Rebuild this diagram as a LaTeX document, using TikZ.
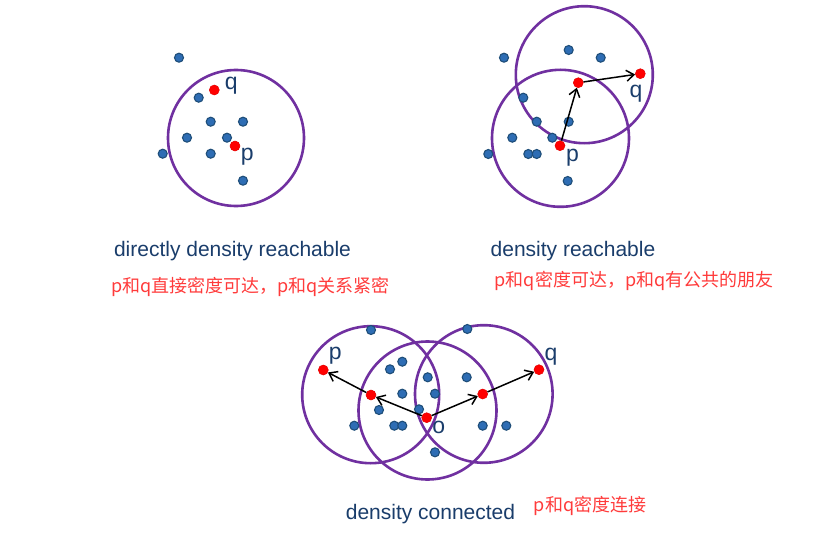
\documentclass[tikz,border=0pt]{standalone}
\usepackage{fontspec}
\setmainfont{Liberation Sans}
\newfontfamily\cjk{Noto Sans CJK SC}
\usetikzlibrary{arrows.meta}
\definecolor{ringc}{HTML}{7030A0}
\definecolor{dotblue}{HTML}{2E6DB4}
\definecolor{dotedge}{HTML}{1F4E79}
\definecolor{txtblue}{HTML}{1A3D6B}
\definecolor{redtxt}{HTML}{FF3B3B}
\begin{document}
\begin{tikzpicture}[x=1pt,y=-1pt,
 ring/.style={draw=ringc,line width=2.6pt},
 bdot/.style={circle,fill=dotblue,draw=dotedge,line width=1.1pt,minimum size=9pt,inner sep=0pt},
 rdot/.style={circle,fill=red,draw=red!90!black,line width=0.5pt,minimum size=10pt,inner sep=0pt},
 lbl/.style={font=\fontsize{23}{23}\selectfont,text=txtblue,inner sep=0pt},
 ttl/.style={font=\fontsize{21}{21}\selectfont,text=txtblue,inner sep=0pt,anchor=base},
 cn/.style={font=\cjk\fontsize{18}{18}\selectfont,text=redtxt,inner sep=0pt},
 arr/.style={-{Straight Barb[length=7.5pt,width=11pt]},line width=1.5pt}
]
\useasboundingbox[fill=white] (0,0) rectangle (831,535);

% ---------- panel 1 ----------
\draw[ring] (236,138) circle[radius=68pt];
\foreach \px/\py [count=\i] in {179/57.7,198.7/97.7,210.7/121.7,243/121.7,187/137.7,227/137.7,162.7/153.7,210.7/153.7,243/180.7}
  \node[bdot] (a\i) at (\px,\py) {};
\node[rdot] (q1) at (214.3,90) {};
\node[rdot] (p1) at (235,146) {};
\node[lbl] (lq1) at (231.2,85.8) {q};
\node[lbl] (lp1) at (247.2,156.7) {p};
\node[ttl] (t1) at (232.5,256.7) {directly density reachable};
\node[cn] (c1) at (250.5,286.7) {p和q直接密度可达，p和q关系紧密};

% ---------- panel 2 ----------
\draw[ring] (584.3,74.7) circle[radius=68.5pt];
\draw[ring] (560.5,138.3) circle[radius=68.5pt];
\foreach \px/\py [count=\i] in {504/57.7,568.7/50,600.7/57.7,523.3/97.7,536.7/121.7,568.7/121.7,512.3/137.7,552.3/137.7,488.3/154,528.3/154,536.7/154,567.7/181}
  \node[bdot] (b\i) at (\px,\py) {};
\node[rdot] (m2) at (578.3,82.7) {};
\node[rdot] (q2) at (640.3,73.7) {};
\node[rdot] (p2) at (560,145.7) {};
\draw[arr] (p2) -- (m2);
\draw[arr] (m2) -- (q2);
\node[lbl] (lq2) at (636,93.3) {q};
\node[lbl] (lp2) at (572.5,157.5) {p};
\node[ttl] (t2) at (573,256) {density reachable};
\node[cn] (c2) at (634,280.8) {p和q密度可达，p和q有公共的朋友};

% ---------- panel 3 ----------
\draw[ring] (370.7,394.7) circle[radius=68.5pt];
\draw[ring] (427.5,410.5) circle[radius=69pt];
\draw[ring] (483.8,394) circle[radius=68.8pt];
\foreach \px/\py [count=\i] in {371/330,467.3/329,402.3/361.7,390/369.3,427.7/377.3,466.7/377.3,402.3/393.7,435/393.7,379/410,419/409.3,354.3/425.7,394.3/425.7,402.3/425.7,482.7/425.7,506.3/425.7,435/452.3}
  \node[bdot] (c\i) at (\px,\py) {};
\node[rdot] (p3) at (323.3,370) {};
\node[rdot] (ml3) at (371,395) {};
\node[rdot] (o3) at (426.7,417.7) {};
\node[rdot] (mr3) at (482.7,394) {};
\node[rdot] (q3) at (539,369.7) {};
\draw[arr] (o3) -- (ml3);
\draw[arr] (ml3) -- (p3);
\draw[arr] (o3) -- (mr3);
\draw[arr] (mr3) -- (q3);
\node[lbl] (lp3) at (335.2,356.2) {p};
\node[lbl] (lq3) at (551,356.7) {q};
\node[lbl] (lo3) at (438.7,427.7) {o};
\node[ttl] (t3) at (430.5,519) {density connected};
\node[cn] (cc3) at (590,505.5) {p和q密度连接};
\end{tikzpicture}
\end{document}
